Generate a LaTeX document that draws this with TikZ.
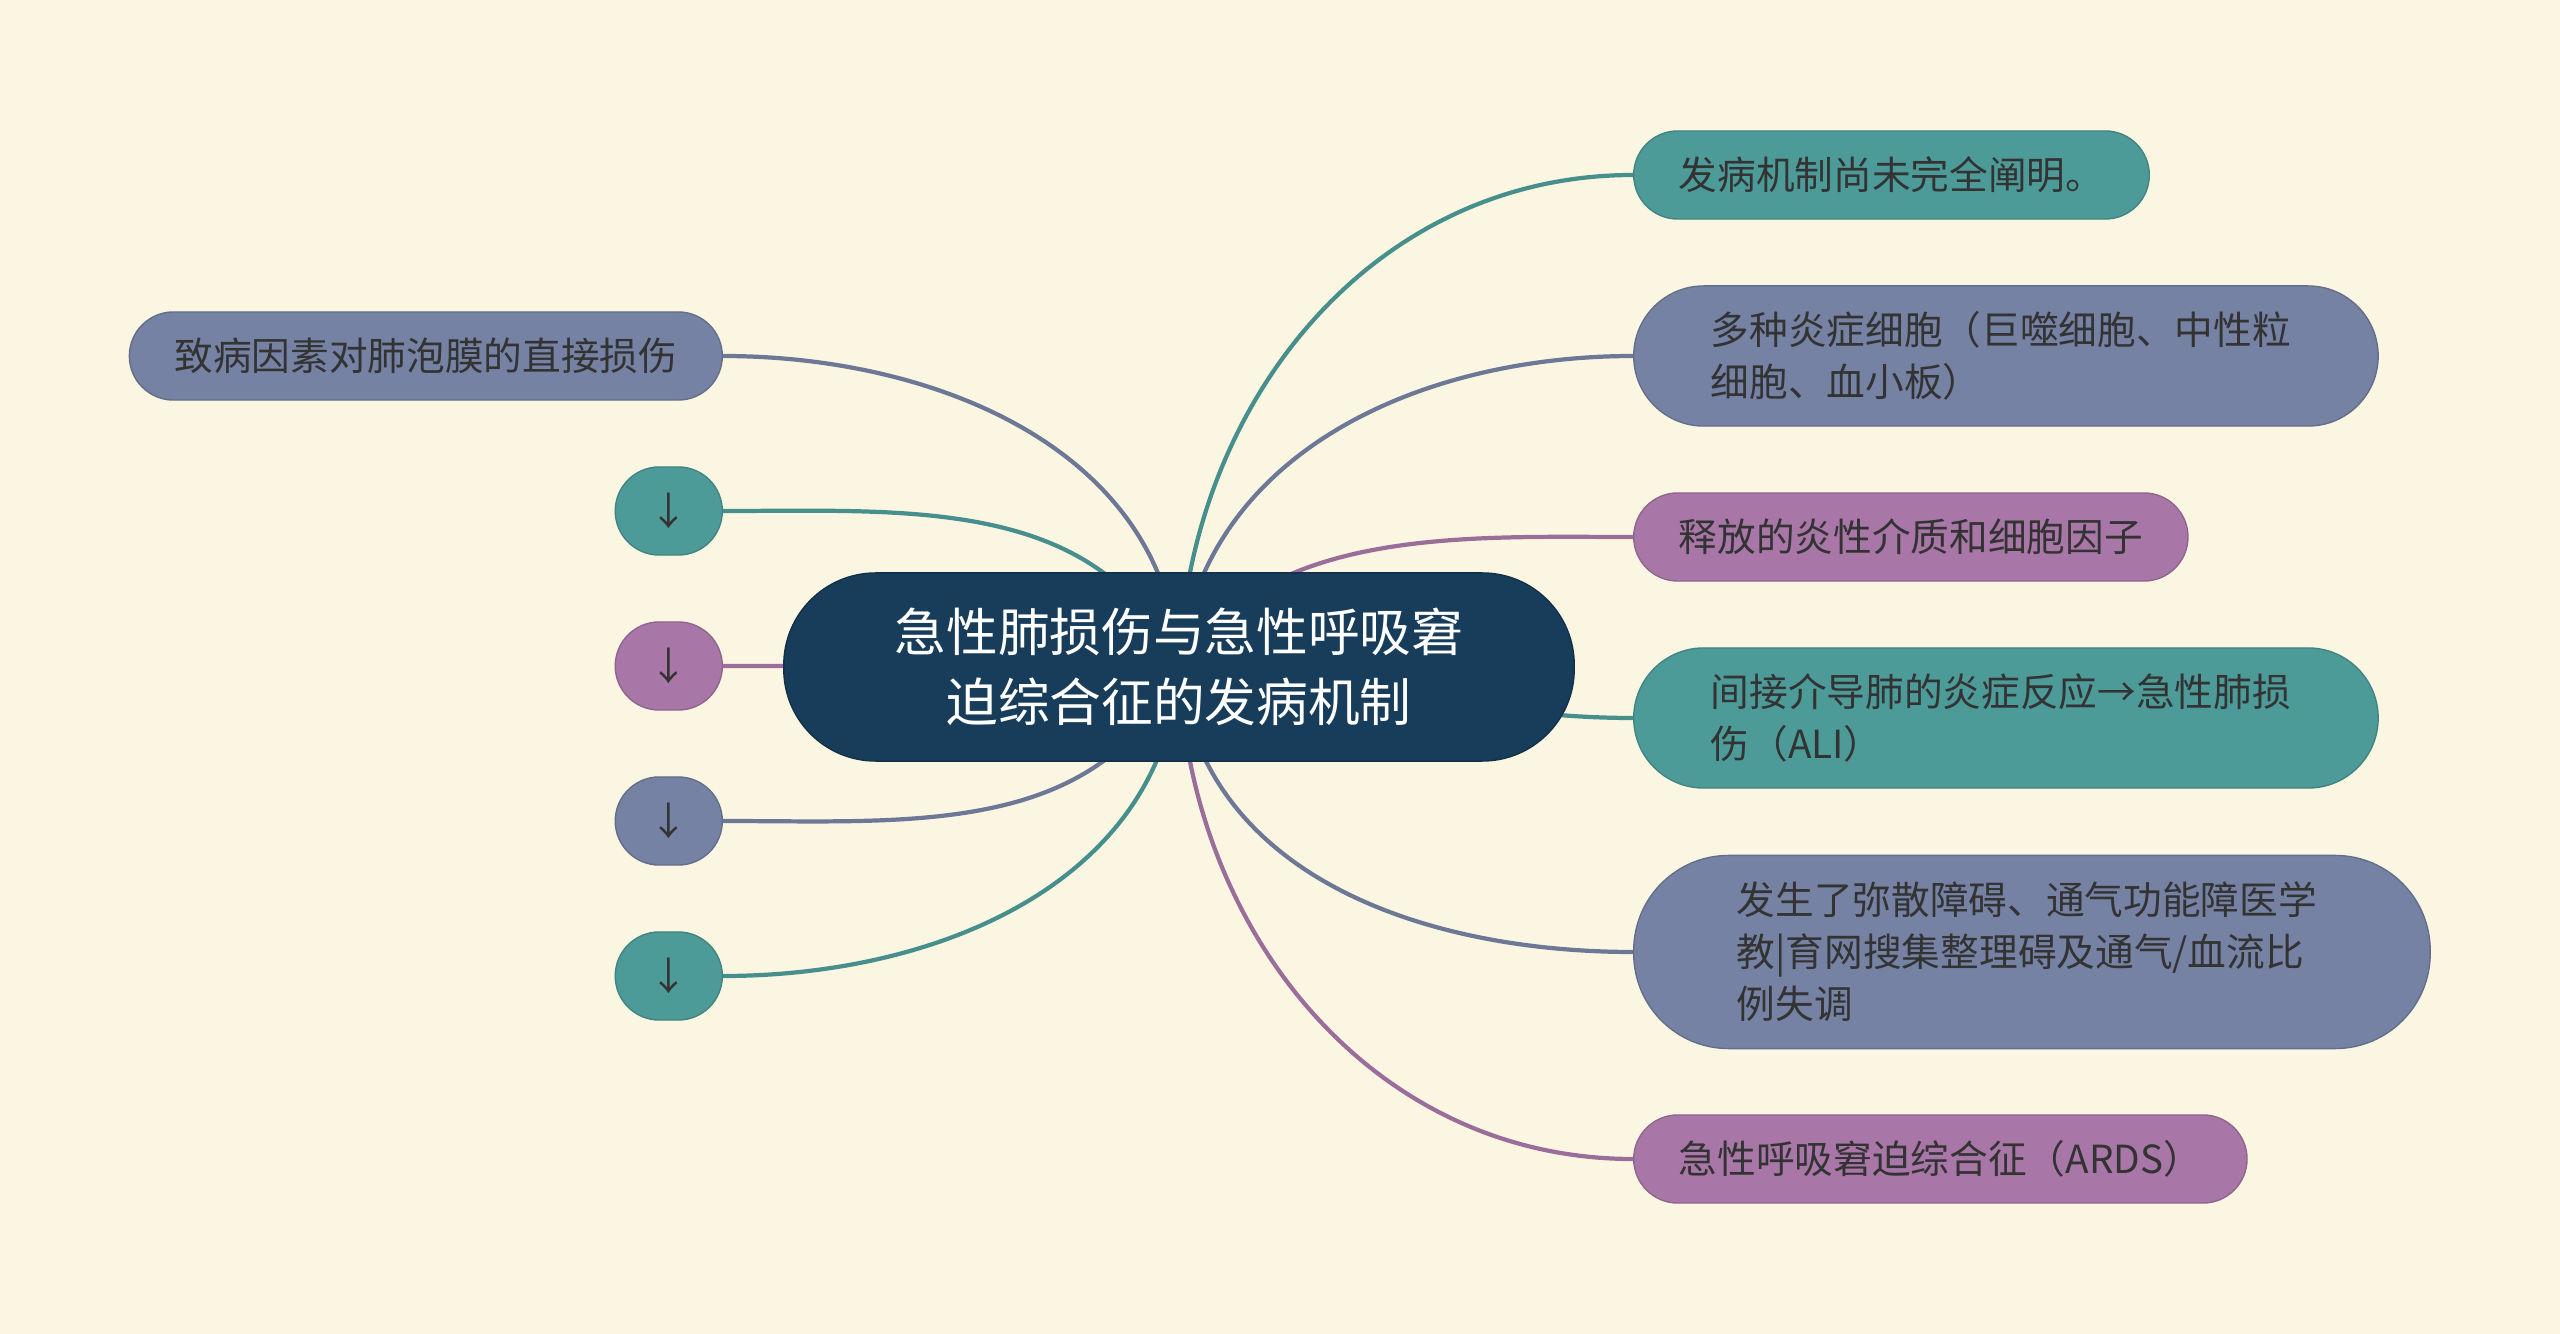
\documentclass[tikz,border=0pt]{standalone}
\usepackage{fontspec}
\setmainfont{Noto Sans CJK SC}
\usepackage{xcolor}
\usepackage{pgf,tikz}

\definecolor{bgcream}{HTML}{FAF6E1}
\definecolor{rootblue}{HTML}{173D5B}
\definecolor{tealleaf}{HTML}{4D9B99}
\definecolor{slateleaf}{HTML}{7682A3}
\definecolor{plumleaf}{HTML}{A877A8}
\definecolor{leaftext}{HTML}{333333}

\pgfdeclarelayer{paper}
\pgfdeclarelayer{links}
\pgfsetlayers{paper,links,main}

\begin{document}
\begin{tikzpicture}[x=0.01cm, y=-0.01cm,
		root/.style={fill=rootblue, draw=rootblue!80!black, text=white, font=\fontsize{14.7}{19.9}\selectfont, align=center, text width=5.8cm, minimum height=1.88cm, rounded corners=0.92cm, inner xsep=1.05cm},
		leaf/.style={fill=#1, draw=#1!85!black, text=leaftext, font=\fontsize{11}{14.8}\selectfont, minimum height=0.88cm, rounded corners=0.44cm, inner xsep=0.45cm},
		tallleaf/.style={leaf=#1, align=left, text width=5.9cm, inner xsep=0.77cm},
		link/.style={line width=1.2pt, draw=#1!92!black}]
				\def\rx{1633}
				\def\lx{723}
				
				\begin{pgfonlayer}{paper}
					\fill[bgcream] (0,0) rectangle (2560,1334);
				\end{pgfonlayer}
				\useasboundingbox (0,0) rectangle (2560,1334);
				
				\node[root] (root) at (1179,667) {急性肺损伤与急性呼吸窘\\迫综合征的发病机制};
				
				\node[leaf=tealleaf, anchor=west] (n1) at (\rx,175) {发病机制尚未完全阐明。};
				\node[tallleaf=slateleaf, minimum height=1.40cm, rounded corners=0.70cm, anchor=west] (n2) at (\rx,356) {多种炎症细胞（巨噬细胞、中性粒\\细胞、血小板）};
				\node[leaf=plumleaf, anchor=west] (n3) at (\rx,537) {释放的炎性介质和细胞因子};
				\node[tallleaf=tealleaf, minimum height=1.40cm, rounded corners=0.70cm, anchor=west] (n4) at (\rx,718) {间接介导肺的炎症反应→急性肺损\\伤（ALI）};
				\node[tallleaf=slateleaf, minimum height=1.93cm, rounded corners=0.95cm, inner xsep=1.03cm, anchor=west] (n5) at (\rx,952) {发生了弥散障碍、通气功能障医学\\教|育网搜集整理碍及通气/血流比\\例失调};
				\node[leaf=plumleaf, anchor=west] (n6) at (\rx,1159) {急性呼吸窘迫综合征（ARDS）};
				
				\node[leaf=slateleaf, anchor=east] (cause) at (\lx,356) {致病因素对肺泡膜的直接损伤};
				
				\begin{pgfonlayer}{links}
					\draw[link=tealleaf] (root.center) to[out=88, in=180] (n1.west);
					\draw[link=slateleaf] (root.center) to[out=84, in=180] (n2.west);
					\draw[link=plumleaf] (root.center) to[out=58, in=180, looseness=0.9] (n3.west);
					\draw[link=tealleaf] (root.center) to[out=0, in=180] (n4.west);
					\draw[link=slateleaf] (root.center) to[out=-84, in=180] (n5.west);
					\draw[link=plumleaf] (root.center) to[out=-88, in=180] (n6.west);
					\draw[link=slateleaf] (root.center) to[out=93, in=0] (cause.east);
				\end{pgfonlayer}
				
				\foreach \i/\yy/\cc/\oo in {1/511/tealleaf/115, 2/666/plumleaf/180, 3/821/slateleaf/245, 4/976/tealleaf/266} {
					\node[leaf=\cc, minimum width=1.07cm, inner xsep=0pt, anchor=east] (d\i) at (\lx,\yy) {↓};
					\begin{pgfonlayer}{links}
						\draw[link=\cc] (root.center) to[out=\oo, in=0] (d\i.east);
					\end{pgfonlayer}
				}
			\end{tikzpicture}
\end{document}
